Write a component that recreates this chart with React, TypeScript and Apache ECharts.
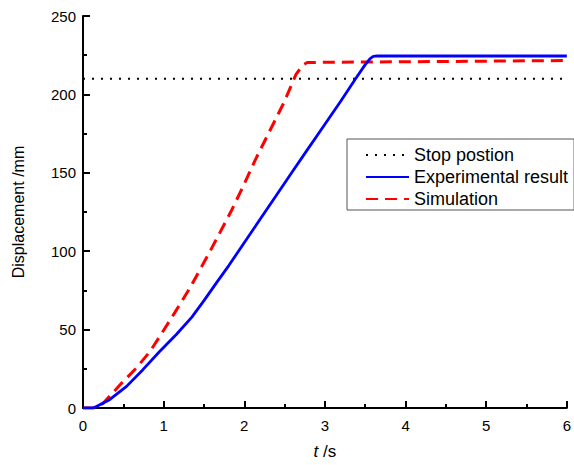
import React, { useEffect, useRef } from "react";
import * as echarts from "echarts";

const stopT = [0, 6];
const stopV = [210, 210];

const expT = [0, 0.13, 0.33, 0.54, 0.74, 0.95, 1.16, 1.35, 1.5, 1.65, 1.81, 2.06, 2.39, 2.6, 2.76, 3.0, 3.2, 3.38, 3.5, 3.56, 3.6, 3.65, 4, 5, 6];
const expV = [0, 0, 5.3, 13.8, 24.3, 36, 47, 58, 68.5, 79.5, 91, 110, 135, 151, 163, 181, 196, 210, 219, 222.8, 224.2, 224.5, 224.5, 224.5, 224.5];

const simT = [0, 0.13, 0.25, 0.46, 0.66, 0.83, 0.95, 1.14, 1.32, 1.57, 1.84, 1.98, 2.14, 2.49, 2.64, 2.72, 2.78, 3, 4, 5, 6];
const simV = [0, 0, 3, 14.8, 25.4, 36, 45.5, 61, 76, 99.4, 125.8, 140.7, 158.6, 194.6, 212.6, 218.5, 220.3, 220.5, 220.8, 221.2, 221.6];

const zip = (a: number[], b: number[]) => a.map((v, i) => [v, b[i]]);

const FONT = "'Liberation Sans', Arial, sans-serif";

export default function App() {
  const ref = useRef<HTMLDivElement>(null);
  useEffect(() => {
    if (!ref.current) return;
    const chart = echarts.init(ref.current, undefined, { renderer: "svg" });
    const axisCommon = {
      axisLine: { show: true, lineStyle: { color: "#000", width: 2 } },
      axisTick: { show: true, inside: true, length: 7, lineStyle: { color: "#000", width: 2 } },
      minorTick: { show: true, splitNumber: 2, length: 4, lineStyle: { color: "#000", width: 2 } },
      splitLine: { show: false },
    };
    chart.setOption({
      animation: false,
      backgroundColor: "#fff",
      textStyle: { fontFamily: FONT },
      grid: { left: 83, right: 5, top: 16, bottom: 55 },
      xAxis: {
        type: "value",
        min: 0,
        max: 6,
        interval: 1,
        ...axisCommon,
        axisLabel: { color: "#000", fontSize: 15, margin: 10, fontFamily: FONT },
        name: "{i|t} /s",
        nameLocation: "middle",
        nameGap: 35,
        nameTextStyle: {
          color: "#000",
          fontSize: 17,
          fontFamily: FONT,
          rich: { i: { fontStyle: "italic", fontSize: 17, color: "#000", fontFamily: FONT } },
        },
      },
      yAxis: {
        type: "value",
        min: 0,
        max: 250,
        interval: 50,
        ...axisCommon,
        axisLabel: { color: "#000", fontSize: 15, margin: 7, fontFamily: FONT },
        name: "Displacement /mm",
        nameLocation: "middle",
        nameGap: 57,
        nameTextStyle: { color: "#000", fontSize: 16, fontFamily: FONT },
      },
      legend: {
        orient: "vertical",
        left: 347,
        top: 139,
        padding: [7, 6, 2, 18],
        itemGap: 4,
        itemWidth: 43,
        itemHeight: 18,
        borderColor: "#555",
        borderWidth: 1,
        itemStyle: { opacity: 0 },
        textStyle: { color: "#000", fontSize: 18, fontFamily: FONT },
        data: ["Stop postion", "Experimental result", "Simulation"],
      },
      series: [
        {
          name: "Stop postion",
          type: "line",
          data: zip(stopT, stopV),
          symbol: "none",
          lineStyle: { color: "#000", width: 2, type: [2, 7] },
          itemStyle: { color: "#000" },
        },
        {
          name: "Simulation",
          type: "line",
          data: zip(simT, simV),
          symbol: "none",
          lineStyle: { color: "#ff0000", width: 3, type: [12, 7] },
          itemStyle: { color: "#ff0000" },
        },
        {
          name: "Experimental result",
          type: "line",
          data: zip(expT, expV),
          symbol: "none",
          lineStyle: { color: "#0000ff", width: 2.8 },
          itemStyle: { color: "#0000ff" },
        },
      ],
    });
    return () => chart.dispose();
  }, []);
  return (
    <div
      ref={ref}
      style={{ position: "fixed", left: 0, top: 0, width: 574, height: 465, background: "#fff" }}
    />
  );
}
